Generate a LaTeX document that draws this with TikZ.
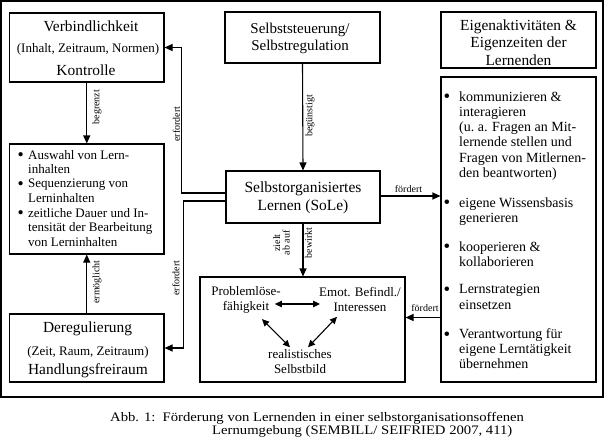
\documentclass[tikz,border=0pt]{standalone}
\usepackage{fontspec}
\setmainfont{Liberation Serif}
\newfontfamily\capfont[FakeStretch=1.13]{Liberation Serif}
\usetikzlibrary{arrows.meta,fit,calc}
\newcommand{\fs}[2]{\fontsize{#1}{#2}\selectfont}
\newcommand{\bul}[1]{\llap{\raisebox{-0.11em}{\scalebox{1.35}{\textbullet}}\hspace{#1}}}
\begin{document}
\begin{tikzpicture}[x=1pt,y=-1pt,
  box/.style={draw=black, line width=1.1pt, inner sep=0pt, fit={#1}},
  txt/.style={inner sep=0pt, align=center},
  lb/.style={anchor=north west, inner sep=0pt, align=left, font=\fs{13}{14.5}},
  rb/.style={anchor=north west, inner sep=0pt, align=left, font=\fs{14}{15.2}},
  lbl/.style={inner sep=0pt, align=center, rotate=90, font=\fs{10}{9.5}},
  hlbl/.style={inner sep=0pt, font=\fs{10}{11}},
  arr/.style={line width=1.1pt, -{Triangle[length=8pt,width=7pt]}},
  darr/.style={line width=1.1pt, {Triangle[length=7pt,width=6.5pt]}-{Triangle[length=7pt,width=6.5pt]}}
]
\useasboundingbox (0,0) rectangle (604,445);
% outer frame
\node[box={(1,1) (603,397)}] (frame) {};
% boxes
\node[box={(9.5,13) (164,82)}] (verb) {};
\node[box={(9.5,144) (164,254)}] (bul) {};
\node[box={(9.5,314) (164,382)}] (dereg) {};
\node[box={(225,12) (380,63)}] (sst) {};
\node[box={(226,171) (380,223)}] (sole) {};
\node[box={(200,277) (405,382)}] (prob) {};
\node[box={(441,12) (596,68)}] (eig) {};
\node[box={(441,77) (596,382)}] (rbul) {};
% box texts
\node[txt, font=\fs{15.4}{17}] (verbA) at (91,26) {Verbindlichkeit};
\node[txt, font=\fs{13}{15}] (verbB) at (88,49) {(Inhalt, Zeitraum, Normen)};
\node[txt, font=\fs{15.4}{17}] (verbC) at (86,70) {Kontrolle};
\node[txt, font=\fs{15.4}{17}] (derA) at (87.5,329) {Deregulierung};
\node[txt, font=\fs{13}{15}] (derB) at (88,352) {(Zeit, Raum, Zeitraum)};
\node[txt, font=\fs{15.4}{17}] (derC) at (88,371) {Handlungsfreiraum};
\node[txt, font=\fs{15}{17}] (sstT) at (300,38.5) {Selbststeuerung/\\Selbstregulation};
\node[txt, font=\fs{15.4}{17.5}] (eigT) at (518.5,42.5) {Eigenaktivitäten \&\\Eigenzeiten der\\Lernenden};
\node[txt, font=\fs{15.5}{18.5}] (soleT) at (303,198) {Selbstorganisiertes\\Lernen (SoLe)};
\node[txt, font=\fs{13}{15}] (pl) at (246,299.5) {Problemlöse-\\fähigkeit};
\node[txt, font=\fs{13}{15}] (em) at (360,299.5) {Emot. Befindl./\\Interessen};
\node[txt, font=\fs{13}{15}] (rs) at (300,361.5) {realistisches\\Selbstbild};
% left bullets
\node[lb] (b1) at (28,149.8) {\bul{4.5pt}Auswahl von Lern-\\inhalten};
\node[lb] (b2) at (28,178.9) {\bul{4.5pt}Sequenzierung von\\Lerninhalten};
\node[lb] (b3) at (28,207.8) {\bul{4.5pt}zeitliche Dauer und In-\\tensität der Bearbeitung\\von Lerninhalten};
% right bullets
\node[rb] (r1) at (459,91.4) {\bul{9pt}kommunizieren \&\\interagieren\\(u.~a. Fragen an Mit-\\lernende stellen und\\Fragen von Mitlernen-\\den beantworten)};
\node[rb] (r2) at (459,197.4) {\bul{9pt}eigene Wissensbasis\\generieren};
\node[rb] (r3) at (459,241.4) {\bul{9pt}kooperieren \&\\kollaborieren};
\node[rb] (r4) at (459,284.4) {\bul{9pt}Lernstrategien\\einsetzen};
\node[rb] (r5) at (459,328.4) {\bul{9pt}Verantwortung für\\eigene Lerntätigkeit\\übernehmen};
% connectors
\draw[arr] (verb.south) -- (bul.north);
\draw[arr] (dereg.north) -- (bul.south);
\draw[arr] ([yshift=4pt]sole.west) -| ($(verb.east)+(17pt,0)$) -- (verb.east);
\draw[arr] ([yshift=-4pt]sole.west) -| ($(dereg.east)+(19pt,0)$) -- (dereg.east);
\draw[arr] (sst.south) -- (sole.north);
\draw[arr] ([yshift=1pt]sole.east) -- ([yshift=1pt]sole.east -| rbul.west);
\draw[arr] (sole.south) -- (sole.south |- prob.north);
\coordinate (f2) at ([yshift=12pt]prob.east);
\draw[arr] (f2 -| rbul.west) -- (f2);
\draw[darr] ([xshift=-6pt,yshift=-4.5pt]pl.east) -- ([xshift=1pt,yshift=-4.5pt]em.west);
\draw[darr] ([xshift=16pt,yshift=-6pt]pl.south) -- ([xshift=-10pt,yshift=2pt]rs.north);
\draw[darr] ([xshift=-23pt,yshift=-5pt]em.south) -- ([xshift=8pt,yshift=2pt]rs.north);
% connector labels
\node[lbl] (l1) at (97,107) {begrenzt};
\node[lbl] (l2) at (97,282) {ermöglicht};
\node[lbl] (l3) at (176.5,124) {erfordert};
\node[lbl] (l4) at (176,278) {erfordert};
\node[lbl] (l5) at (310,116) {begünstigt};
\node[lbl] (l6) at (281.5,243) {zielt\\ab auf};
\node[lbl] (l7) at (308.5,243) {bewirkt};
\node[hlbl] (l8) at (408.5,189) {fördert};
\node[hlbl] (l9) at (425,308) {fördert};
% caption
\node[anchor=base west, inner sep=0pt, font=\capfont\fs{13}{13}] (cap1) at (110,421.5) {Abb. 1:\hspace{0.55em}Förderung von Lernenden in einer selbstorganisationsoffenen};
\node[anchor=base west, inner sep=0pt, font=\capfont\fs{13}{13}] (cap2) at (212,434) {Lernumgebung (SEMBILL/ SEIFRIED 2007, 411)};
\end{tikzpicture}
\end{document}
